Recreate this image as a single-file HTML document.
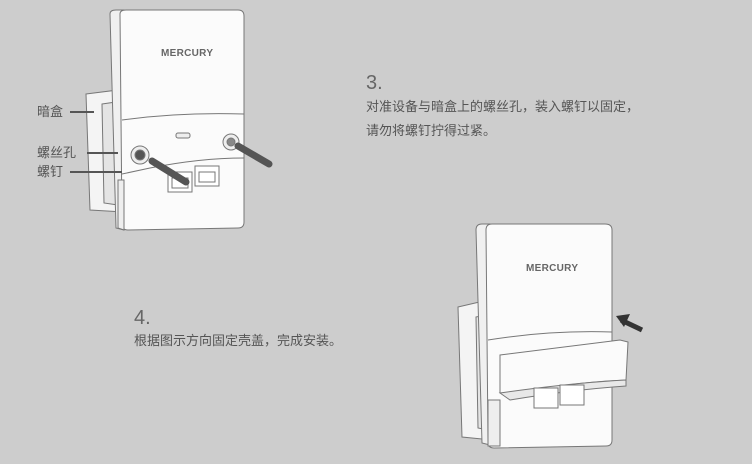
<!DOCTYPE html>
<html><head><meta charset="utf-8"><style>
body{margin:0;width:752px;height:464px;background:#cdcdcd;overflow:hidden;position:relative;font-family:"Liberation Sans","Noto Sans CJK SC",sans-serif;color:#555}
.t{position:absolute;font-size:13px;color:#555;line-height:20px;white-space:nowrap}
.n{position:absolute;font-size:20px;color:#666;font-weight:300}
</style></head><body>
<svg width="752" height="464" style="position:absolute;left:0;top:0">
<g stroke="#777" stroke-width="1" fill="#fbfbfb">
<!-- device 1 -->
<path d="M86 94 L118 90 L124 212 L90 210 Z" fill="#f4f4f4"/>
<path d="M102 104 L116 102 L118 205 L104 203 Z" fill="#e4e4e4"/>
<path d="M110 14 Q110 10 116 10 L124 10 L124 230 L116 228 Z" fill="#f0f0f0"/>
<path d="M120 14 Q120 10 126 10 L238 10 Q244 10 244 16 L244 222 Q244 228 238 228 L128 230 Q122 230 122 224 Z"/>
<path d="M122 120 Q180 112 244 114" fill="none"/>
<path d="M122 174 L150 168 Q200 158 244 158" fill="none"/>
<path d="M118 180 L124 180 L124 230 L118 228 Z" fill="#eee"/>
<rect x="168" y="172" width="24" height="20" fill="#fff"/>
<rect x="195" y="166" width="24" height="20" fill="#fff"/>
<path d="M172 178 h16 v10 h-16z M199 172 h16 v10 h-16z" fill="#fff"/>
<circle cx="140" cy="155" r="9" fill="#eee"/><circle cx="140" cy="155" r="5" fill="#555"/>
<circle cx="231" cy="142" r="8" fill="#eee"/><circle cx="231" cy="142" r="4" fill="#888"/>
<rect x="176" y="133" width="14" height="5" rx="2" fill="#eee"/>
<!-- device 2 -->
<path d="M458 307 L488 300 L492 440 L462 437 Z" fill="#f4f4f4"/>
<path d="M476 317 L486 315 L488 430 L478 428 Z" fill="#e4e4e4"/>
<path d="M476 230 Q476 224 482 224 L490 224 L490 445 L482 443 Z" fill="#f0f0f0"/>
<path d="M486 230 Q486 224 492 224 L605 224 Q612 224 612 230 L612 440 Q612 446 606 446 L494 448 Q488 448 488 442 Z"/>
<path d="M488 340 Q550 330 612 332" fill="none"/>
<path d="M500 355 L620 340 L628 342 L626 380 Q570 382 510 395 L500 393 Z"/>
<path d="M500 393 Q570 383 626 380 L626 386 Q570 390 510 400 Z" fill="#e8e8e8"/>
<rect x="534" y="388" width="24" height="20" fill="#fff"/>
<rect x="560" y="385" width="24" height="20" fill="#fff"/>
<path d="M488 400 L500 400 L500 446 L488 446 Z" fill="#eee"/>
</g>
<g stroke="#555" stroke-width="7" stroke-linecap="round">
<line x1="152" y1="161" x2="186" y2="182"/>
<line x1="238" y1="146" x2="269" y2="164"/>
</g>
<g fill="#666" font-family="Liberation Sans" font-weight="bold" font-size="10" letter-spacing="0.3">
<text x="161" y="56">MERCURY</text>
<text x="526" y="271">MERCURY</text>
</g>
<path d="M621 320 L642 330" stroke="#333" stroke-width="5"/>
<path d="M616 316 L630 314 L624 327 Z" fill="#333"/>
<g stroke="#555" stroke-width="2">
<line x1="70" y1="112" x2="94" y2="112"/>
<line x1="87" y1="153" x2="118" y2="153"/>
<line x1="70" y1="172" x2="122" y2="172"/>
</g>
</svg>
<div class="t" style="left:37px;top:102px">暗盒</div>
<div class="t" style="left:37px;top:143px">螺丝孔</div>
<div class="t" style="left:37px;top:162px">螺钉</div>
<div class="n" style="left:366px;top:72px">3.</div>
<div class="t" style="left:366px;top:97px">对准设备与暗盒上的螺丝孔，装入螺钉以固定，</div>
<div class="t" style="left:366px;top:121px">请勿将螺钉拧得过紧。</div>
<div class="n" style="left:134px;top:307px">4.</div>
<div class="t" style="left:134px;top:331px">根据图示方向固定壳盖，完成安装。</div>
</body></html>
